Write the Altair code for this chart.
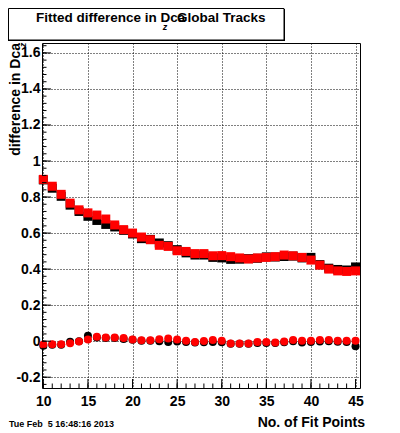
import altair as alt
import pandas as pd

fit_points = [10, 11, 12, 13, 14, 15, 16, 17, 18, 19, 20, 21, 22, 23, 24, 25, 26, 27,
              28, 29, 30, 31, 32, 33, 34, 35, 36, 37, 38, 39, 40, 41, 42, 43, 44, 45]

red_upper = [0.898, 0.860, 0.815, 0.766, 0.729, 0.712, 0.700, 0.678, 0.645, 0.619, 0.600, 0.578,
             0.563, 0.532, 0.526, 0.502, 0.498, 0.486, 0.486, 0.474, 0.475, 0.469, 0.462, 0.456,
             0.462, 0.465, 0.469, 0.478, 0.474, 0.465, 0.450, 0.422, 0.400, 0.390, 0.387, 0.390]
black_upper = [0.895, 0.849, 0.804, 0.755, 0.720, 0.693, 0.670, 0.648, 0.634, 0.615, 0.595, 0.569,
               0.565, 0.545, 0.530, 0.508, 0.490, 0.478, 0.478, 0.465, 0.462, 0.454, 0.455, 0.458,
               0.460, 0.468, 0.467, 0.470, 0.472, 0.462, 0.465, 0.425, 0.405, 0.398, 0.395, 0.412]
red_lower = [-0.018, -0.017, -0.017, -0.011, -0.002, 0.009, 0.024, 0.020, 0.020, 0.017, 0.009, 0.005,
             0.005, 0.011, 0.015, 0.009, 0.002, -0.004, 0.001, 0.006, 0.002, -0.013, -0.013, -0.013,
             -0.004, -0.004, -0.007, -0.002, 0.006, 0.002, 0.002, 0.006, 0.006, 0.002, 0.002, 0.002]
black_lower = [-0.025, -0.020, -0.020, -0.003, 0.000, 0.030, 0.020, 0.018, 0.017, 0.012, 0.008, 0.002,
               0.002, 0.000, -0.005, -0.002, -0.004, -0.008, -0.006, -0.005, -0.006, -0.015, -0.014, -0.015,
               -0.010, -0.010, -0.010, -0.006, 0.000, -0.008, -0.005, -0.002, 0.000, -0.003, -0.005, -0.028]

x_major = [10, 15, 20, 25, 30, 35, 40, 45]
x_minor = list(range(10, 46))
y_major = [-0.2, 0, 0.2, 0.4, 0.6, 0.8, 1, 1.2, 1.4, 1.6]
y_minor = [round(-0.24 + 0.04 * i, 2) for i in range(48)]

W, H = 318, 345
FONT = "Liberation Sans"

xs = alt.Scale(domain=[9.85, 45.5], nice=False, zero=False)
ys = alt.Scale(domain=[-0.26, 1.655], nice=False, zero=False)

common_axis = dict(
    labelExpr="toString(datum.value)", title=None, grid=True, gridColor="black",
    gridDash=[1, 2], gridOpacity=1, gridWidth=1, ticks=False, tickSize=0, domain=False,
    labelFont=FONT, labelFontWeight="bold", labelFontSize=14, labelColor="black",
    labelFlush=False, labelOverlap=False, tickCount=50,
)
x_axis = alt.Axis(values=x_major, labelPadding=6, **common_axis)
y_axis = alt.Axis(values=y_major, labelPadding=2, **common_axis)


def points(vals, shape, color, size, with_axes=False):
    d = pd.DataFrame({"x": fit_points, "y": vals})
    if with_axes:
        xe = alt.X("x:Q", scale=xs, axis=x_axis)
        ye = alt.Y("y:Q", scale=ys, axis=y_axis)
    else:
        xe = alt.X("x:Q", scale=xs)
        ye = alt.Y("y:Q", scale=ys)
    return alt.Chart(d).mark_point(
        shape=shape, filled=True, size=size, color=color, opacity=1, strokeWidth=0
    ).encode(x=xe, y=ye)


def xticks(vals, length):
    d = pd.DataFrame({"x": vals})
    return alt.Chart(d).mark_rule(color="black", strokeWidth=1).encode(
        x=alt.X("x:Q", scale=xs), y=alt.value(H), y2=alt.value(H - length)
    )


def yticks(vals, length):
    d = pd.DataFrame({"y": vals})
    return alt.Chart(d).mark_rule(color="black", strokeWidth=1).encode(
        y=alt.Y("y:Q", scale=ys), x=alt.value(0), x2=alt.value(length)
    )


one = pd.DataFrame({"a": [0]})


def txt(text, x, y, size, align="left", angle=0, style="normal", baseline="alphabetic"):
    return alt.Chart(one).mark_text(
        text=text, font=FONT, fontWeight="bold", fontStyle=style, fontSize=size,
        color="black", align=align, baseline=baseline, angle=angle
    ).encode(x=alt.value(x), y=alt.value(y))


# plot origin on page is (42, 43); canvas starts at page (8, 8)
shadow = alt.Chart(one).mark_rect(color="black").encode(
    x=alt.value(5 - 42), x2=alt.value(285 - 42), y=alt.value(9 - 43), y2=alt.value(41 - 43)
)
box = alt.Chart(one).mark_rect(fill="white", stroke="black", strokeWidth=1).encode(
    x=alt.value(8.5 - 42), x2=alt.value(284 - 42), y=alt.value(8.5 - 43), y2=alt.value(40 - 43)
)

layers = [
    points(black_upper, "square", "black", 81, with_axes=True),
    points(black_lower, "circle", "black", 64),
    points(red_upper, "square", "#ff0000", 81),
    points(red_lower, "circle", "#ff0000", 64),
    xticks(x_minor, 4.5),
    xticks(x_major, 9),
    yticks(y_minor, 4.5),
    yticks(y_major, 9),
    shadow,
    box,
    txt("Fitted difference in Dca", 36 - 42, 22 - 43, 13.5),
    txt("Global Tracks", 177 - 42, 22 - 43, 13.5),
    txt("z", 165 - 42, 30 - 43, 9, align="center", style="italic"),
    txt("difference in Dca", 20 - 42, 43 - 43, 14, align="right", angle=270),
    txt("z", 23 - 42, 45 - 43, 9, align="center", angle=270, style="italic", baseline="middle"),
    txt("No. of Fit Points", 365 - 42, 427 - 43, 14, align="right"),
    txt("Tue Feb \u00a05 16:48:16 2013", 9 - 42, 427 - 43, 9),
]

chart = alt.layer(*layers).properties(
    width=W, height=H,
    autosize=alt.AutoSizeParams(type="none"),
    padding={"left": 34, "top": 35, "right": 32, "bottom": 46},
    background="white",
).configure_view(stroke="black", strokeWidth=1)

chart.save("out.html", embed_options={"renderer": "svg", "actions": False})
